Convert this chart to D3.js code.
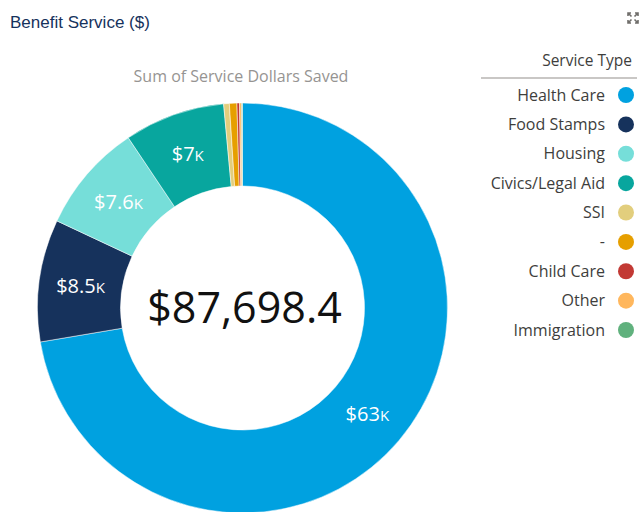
<!DOCTYPE html>
<html>
<head>
<meta charset="utf-8">
<script src="https://cdn.jsdelivr.net/npm/d3@7"></script>
<style>
    body { margin: 0; background: #fff; }
    svg { display: block; }
</style>
</head>
<body>
<svg id="chart"></svg>
<script>
var categories = ["Health Care", "Food Stamps", "Housing", "Civics/Legal Aid", "SSI", "-", "Child Care", "Other", "Immigration"];
var values = [63450, 8450, 7550, 6960, 390, 520, 180, 135, 63.4];
var colors = ["#00a1e0", "#16325c", "#76ded9", "#08a69e", "#e2ce7d", "#e69f00", "#c23934", "#ffb75d", "#60b17d"];

var width = 641,
    height = 512,
    cx = 242.5,
    cy = 308,
    outerR = 205,
    innerR = 122;

var data = categories.map(function (c, i) {
    return {name: c, value: values[i]};
});
var total = d3.sum(values);

var svg = d3.select("#chart")
    .attr("width", width)
    .attr("height", height)
    .style("font-family", "'Open Sans', Lato, sans-serif");

// header
svg.append("text")
    .attr("x", 10)
    .attr("y", 28)
    .attr("fill", "#16325c")
    .style("font-family", "'Liberation Sans', Arial, sans-serif")
    .style("font-size", "17px")
    .text("Benefit Service ($)");

// expand icon (four little corner arrows)
var icon = svg.append("g")
    .attr("transform", "translate(633,18)")
    .attr("stroke", "#706e6b")
    .attr("stroke-width", 1.6)
    .attr("fill", "none");
[[-1, -1], [1, -1], [-1, 1], [1, 1]].forEach(function (s) {
    icon.append("path")
        .attr("d", "M" + (s[0] * 5) + "," + (s[1] * 2) + "V" + (s[1] * 5) + "H" + (s[0] * 2) +
            "M" + (s[0] * 5) + "," + (s[1] * 5) + "L" + (s[0] * 1.5) + "," + (s[1] * 1.5));
});

svg.append("text")
    .attr("x", 241)
    .attr("y", 82)
    .attr("text-anchor", "middle")
    .attr("fill", "#969492")
    .style("font-size", "16px")
    .text("Sum of Service Dollars Saved");

var color = d3.scaleOrdinal()
    .domain(categories)
    .range(colors);

var pie = d3.pie()
    .sort(null)
    .value(function (d) { return d.value; });

var arc = d3.arc()
    .innerRadius(innerR)
    .outerRadius(outerR);

var g = svg.append("g")
    .attr("transform", "translate(" + cx + "," + cy + ")");

var arcs = pie(data);

g.selectAll("path")
    .data(arcs)
    .enter().append("path")
    .attr("d", arc)
    .attr("fill", function (d) { return color(d.data.name); })
    .attr("stroke", "#fff")
    .attr("stroke-width", 0.5);

var fmt = d3.format(".2~s");

var labels = g.selectAll(".slice-label")
    .data(arcs.filter(function (d) { return d.endAngle - d.startAngle > 0.3; }))
    .enter().append("text")
    .attr("class", "slice-label")
    .attr("transform", function (d) {
        var c = arc.centroid(d);
        return "translate(" + c[0] + "," + c[1] + ")";
    })
    .attr("text-anchor", "middle")
    .attr("dy", "0.35em")
    .attr("fill", "#fff")
    .style("font-size", "20px");

labels.append("tspan")
    .text(function (d) { return "$" + fmt(d.data.value).replace("k", ""); });
labels.append("tspan")
    .style("font-size", "15px")
    .text("K");

g.append("text")
    .attr("x", 2)
    .attr("y", 15)
    .attr("text-anchor", "middle")
    .attr("fill", "#111")
    .style("font-size", "43px")
    .text("$" + d3.format(",.1f")(total));

// legend
var legend = svg.append("g");

legend.append("text")
    .attr("x", 632)
    .attr("y", 66)
    .attr("text-anchor", "end")
    .attr("fill", "#3e3e3c")
    .style("font-size", "15.5px")
    .text("Service Type");

legend.append("line")
    .attr("x1", 481)
    .attr("x2", 637)
    .attr("y1", 78)
    .attr("y2", 78)
    .attr("stroke", "#c9c7c5")
    .attr("stroke-width", 2);

var yLegend = d3.scalePoint()
    .domain(categories)
    .range([95, 330]);

var items = legend.selectAll(".item")
    .data(categories)
    .enter().append("g")
    .attr("class", "item")
    .attr("transform", function (d) { return "translate(0," + yLegend(d) + ")"; });

items.append("circle")
    .attr("cx", 626)
    .attr("r", 8)
    .attr("fill", function (d) { return color(d); });

items.append("text")
    .attr("x", 605)
    .attr("dy", "0.35em")
    .attr("text-anchor", "end")
    .attr("fill", "#3e3e3c")
    .style("font-size", "16px")
    .text(function (d) { return d; });
</script>
</body>
</html>
